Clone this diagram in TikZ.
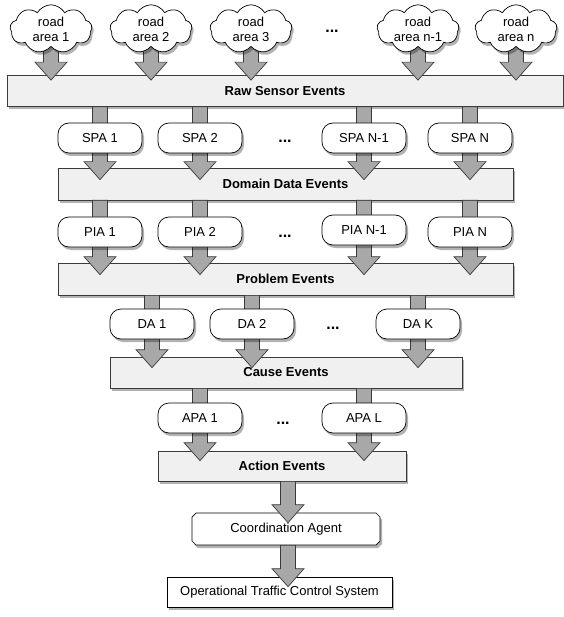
\documentclass[tikz,border=0pt]{standalone}
\usepackage{fontspec}
\setmainfont{Liberation Sans}
\usetikzlibrary{shapes.symbols,shapes.misc,shadows,calc}
\pgfdeclarelayer{bg}
\pgfdeclarelayer{fg}
\pgfsetlayers{bg,main,fg}
\definecolor{boxfill}{HTML}{F0F0F0}
\definecolor{arrfill}{HTML}{A8A8A8}
\definecolor{arrline}{HTML}{3A3A3A}
\tikzset{
  lbl/.style={font=\fontsize{13}{15}\selectfont},
  shad/.style={drop shadow={shadow xshift=2pt,shadow yshift=-3pt,fill=black,opacity=0.3}},
  evbox/.style={lbl,font=\fontsize{13}{15}\selectfont\bfseries,draw=arrline,line width=0.7pt,fill=boxfill,shad,minimum height=31pt,inner sep=0pt},
  agent/.style={lbl,draw=black,line width=0.7pt,fill=white,rounded corners=11pt,shad,minimum width=84pt,minimum height=30pt,inner sep=0pt},
  roadcloud/.style={lbl,cloud,cloud puffs=9,cloud puff arc=120,aspect=2.3,draw=black,line width=0.7pt,fill=white,shad,minimum width=82pt,minimum height=36pt,inner sep=0pt,align=center},
  fatarr/.style={draw=arrline,fill=arrfill,line width=0.7pt,line join=miter},
  dots/.style={font=\fontsize{16}{16}\selectfont\bfseries}
}
\newcommand\fatarrow[2]{\draw[fatarr] let \p1=#1, \p2=#2 in
  ({\x1-7.5pt},{\y1}) -- ({\x1-7.5pt},{\y2+18pt}) -- ({\x1-16pt},{\y2+18pt}) --
  ({\x1},{\y2}) -- ({\x1+16pt},{\y2+18pt}) -- ({\x1+7.5pt},{\y2+18pt}) --
  ({\x1+7.5pt},{\y1}) -- cycle;}
\begin{document}
\begin{tikzpicture}[x=1pt,y=-1pt]
\useasboundingbox (0,0) rectangle (563,617);
\begin{pgfonlayer}{bg}
  \node[evbox,minimum width=556pt] (raw) at (285,91) {Raw Sensor Events};
  \node[evbox,minimum width=455pt,minimum height=32pt] (dom) at (285.5,184) {Domain Data Events};
  \node[evbox,minimum width=455pt,minimum height=32pt] (prob) at (285.5,279) {Problem Events};
  \node[evbox,minimum width=352pt] (cause) at (286,372.5) {Cause Events};
  \node[evbox,minimum width=248pt,minimum height=30pt] (act) at (282,466) {Action Events};
  \node[lbl,chamfered rectangle,chamfered rectangle xsep=2pt,chamfered rectangle ysep=2pt,draw=black,line width=0.7pt,fill=white,shad,minimum width=188pt,minimum height=32pt,inner sep=0pt] (coord) at (286,529) {Coordination Agent};
  \node[lbl,draw=black,line width=0.7pt,fill=white,shad,minimum width=225pt,minimum height=30pt,inner sep=0pt] (otcs) at (279.5,592) {Operational Traffic Control System};
\end{pgfonlayer}
\begin{pgfonlayer}{fg}
  \node[roadcloud] (c1) at (51,29) {road\\area 1};
  \node[roadcloud] (c2) at (151,29) {road\\area 2};
  \node[roadcloud] (c3) at (251,29) {road\\area 3};
  \node[roadcloud] (c4) at (418,29) {road\\area n-1};
  \node[roadcloud] (c5) at (516,29) {road\\area n};
  \node[dots] (d0) at (332,31) {...};
  \node[dots] (d1) at (285,141) {...};
  \node[agent] (spa1) at (100,138) {SPA 1};
  \node[agent] (spa2) at (200,138) {SPA 2};
  \node[agent] (spa3) at (364,138) {SPA N-1};
  \node[agent] (spa4) at (470,138) {SPA N};
  \node[agent] (pia1) at (100,232) {PIA 1};
  \node[agent] (pia2) at (200,232) {PIA 2};
  \node[agent] (pia3) at (364,230) {PIA N-1};
  \node[agent] (pia4) at (470,232) {PIA N};
  \node[dots] (d2) at (285,236) {...};
  \node[agent] (da1) at (152,324) {DA 1};
  \node[agent] (da2) at (252,324) {DA 2};
  \node[agent] (da3) at (418,324) {DA K};
  \node[dots] (d3) at (333,328) {...};
  \node[agent] (apa1) at (200,418) {APA 1};
  \node[agent] (apa2) at (364,418) {APA L};
  \node[dots] (d4) at (283,423) {...};
\end{pgfonlayer}
% arrows
\foreach \c in {c1,c2,c3,c4,c5}{
  \fatarrow{(\c.center)}{($(raw.north -| \c)+(0,5)$)}
}
\foreach \a in {spa1,spa2,spa3,spa4}{
  \fatarrow{(raw.south -| \a)}{($(dom.north -| \a)+(0,12)$)}
}
\foreach \a in {pia1,pia2,pia3,pia4}{
  \fatarrow{(dom.south -| \a)}{($(prob.north -| \a)+(0,12)$)}
}
\foreach \a in {da1,da2,da3}{
  \fatarrow{(prob.south -| \a)}{($(cause.north -| \a)+(0,11)$)}
}
\foreach \a in {apa1,apa2}{
  \fatarrow{(cause.south -| \a)}{($(act.north -| \a)+(0,10)$)}
}
\coordinate (ax) at (288,0);
\fatarrow{(act.south -| ax)}{($(coord.north -| ax)+(0,10)$)}
\fatarrow{(coord.south -| ax)}{($(otcs.north -| ax)+(0,10)$)}
\end{tikzpicture}
\end{document}
